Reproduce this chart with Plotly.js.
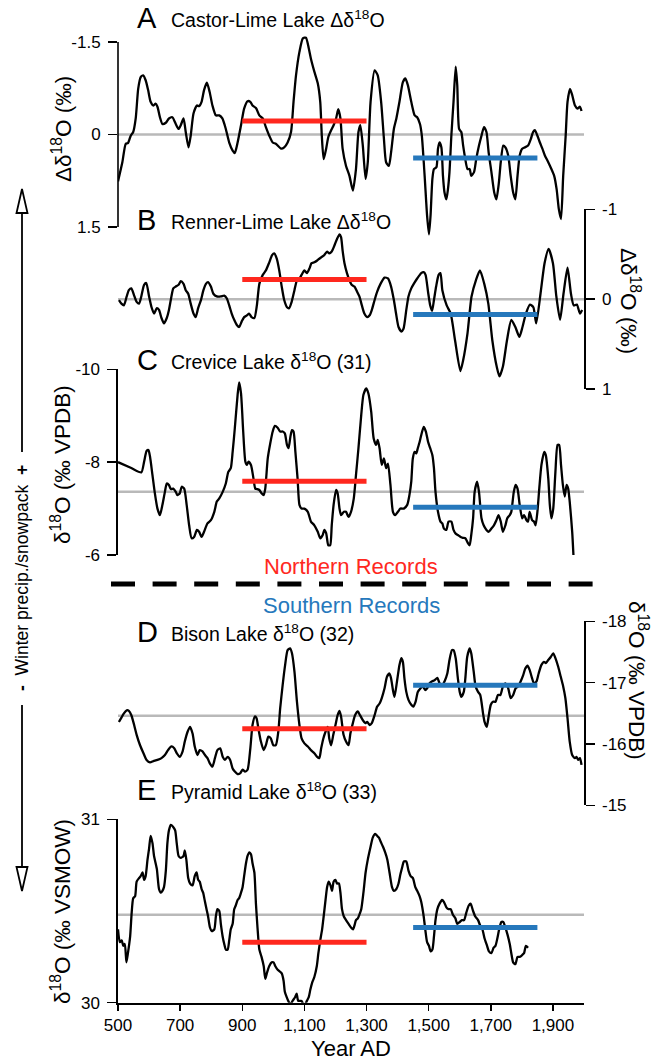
<!DOCTYPE html>
<html>
<head>
<meta charset="utf-8">
<script src="https://cdn.plot.ly/plotly-3.0.1.min.js"></script>
<style>html,body{margin:0;padding:0;background:#fff;}#chart{width:653px;height:1060px;}</style>
</head>
<body>
<div id="chart"></div>
<script>
// ---------------- DATA ----------------
const yearsA = [500,514,525,532,541,549,557,565,573,581,589,597,605,614,621,627,635,643,654,664,675,686,695,702,711,718,727,734,743,754,761,769,777,786,795,804,815,826,836,847,858,869,876,885,896,906,917,926,933,944,955,966,976,987,998,1008,1025,1035,1046,1057,1065,1073,1084,1095,1105,1114,1121,1132,1143,1151,1156,1162,1170,1177,1186,1194,1202,1209,1216,1223,1234,1245,1256,1266,1274,1280,1288,1297,1304,1313,1326,1336,1347,1356,1363,1372,1379,1388,1396,1406,1417,1425,1433,1444,1455,1463,1472,1478,1487,1495,1501,1506,1512,1517,1525,1530,1535,1541,1546,1551,1557,1562,1567,1573,1580,1587,1592,1598,1605,1611,1616,1625,1632,1637,1646,1653,1662,1670,1678,1686,1693,1702,1711,1718,1726,1732,1740,1747,1756,1764,1772,1779,1786,1793,1801,1809,1820,1829,1836,1842,1850,1858,1866,1874,1885,1895,1904,1912,1919,1926,1933,1941,1947,1955,1962,1971,1979,1987,1992];
const valsA = [0.76,0.45,0.15,0.14,0.02,-0.04,-0.26,-0.74,-0.93,-0.96,-0.88,-0.72,-0.53,-0.47,-0.50,-0.45,-0.28,-0.17,-0.19,-0.26,-0.28,-0.17,-0.09,-0.15,-0.26,-0.04,0.21,0.02,-0.34,-0.47,-0.46,-0.53,-0.72,-0.84,-0.69,-0.47,-0.31,-0.31,-0.26,-0.09,0.13,0.26,0.30,0.13,-0.15,-0.42,-0.54,-0.53,-0.47,-0.43,-0.31,-0.26,-0.12,0.02,0.13,0.15,0.23,0.21,0.13,-0.04,-0.53,-0.96,-1.34,-1.56,-1.57,-1.40,-1.23,-1.02,-0.83,-0.53,0.02,0.40,0.23,0.04,-0.07,-0.15,-0.26,-0.41,-0.26,0.23,0.51,0.67,0.91,0.56,-0.04,-0.15,0.18,0.72,0.45,-0.53,-1.04,-0.96,-0.53,0.07,0.45,0.51,0.29,-0.09,-0.26,-0.53,-0.85,-0.91,-0.80,-0.53,-0.31,-0.28,-0.17,0.02,0.67,1.32,1.62,1.32,0.72,0.56,0.53,0.23,0.13,0.21,0.67,0.94,1.05,0.89,0.61,0.02,-0.53,-1.10,-0.80,-0.09,-0.04,0.18,0.34,0.56,0.56,0.67,0.61,0.40,0.18,0.02,-0.12,-0.04,0.29,0.61,0.94,1.05,0.78,0.45,0.18,0.21,0.34,0.67,0.94,1.05,0.67,0.34,0.23,0.21,0.18,0.07,-0.04,-0.07,0.02,0.13,0.23,0.34,0.45,0.56,0.67,0.89,1.21,1.37,0.67,0.02,-0.53,-0.74,-0.64,-0.47,-0.42,-0.45,-0.38];

const yearsB = [503,511,519,528,535,543,552,560,568,575,584,591,600,608,616,625,632,640,648,657,664,672,678,686,695,702,711,718,726,734,743,750,758,767,775,783,790,799,807,818,831,842,850,858,866,874,883,890,898,906,915,922,930,939,947,955,966,976,987,996,1003,1011,1019,1027,1035,1044,1051,1059,1068,1076,1084,1091,1100,1108,1116,1123,1132,1141,1148,1156,1164,1173,1180,1188,1197,1205,1213,1218,1223,1229,1237,1245,1252,1261,1270,1277,1285,1293,1302,1310,1317,1326,1334,1345,1358,1369,1379,1388,1395,1403,1412,1419,1428,1435,1444,1452,1463,1476,1484,1490,1498,1505,1511,1517,1524,1532,1538,1544,1558,1571,1585,1602,1611,1625,1638,1652,1665,1679,1692,1705,1719,1728,1739,1752,1766,1779,1792,1802,1813,1826,1837,1846,1860,1873,1886,1900,1911,1923,1934,1947,1958,1967,1977,1987,1994];
const valsB = [0.01,0.05,0.07,-0.03,-0.10,-0.12,-0.04,0.03,0.05,-0.03,-0.16,-0.18,-0.03,0.09,0.16,0.10,0.12,0.21,0.27,0.21,0.12,-0.03,-0.12,-0.14,-0.16,-0.20,-0.17,-0.10,-0.06,0.05,0.16,0.20,0.10,0.01,-0.10,-0.17,-0.19,-0.14,-0.06,-0.03,-0.03,-0.04,-0.01,0.07,0.16,0.23,0.29,0.31,0.25,0.20,0.18,0.16,0.20,0.21,0.07,-0.17,-0.27,-0.32,-0.41,-0.49,-0.51,-0.45,-0.32,-0.14,0.01,0.09,0.10,0.03,-0.10,-0.21,-0.23,-0.27,-0.32,-0.29,-0.34,-0.40,-0.41,-0.43,-0.45,-0.47,-0.49,-0.53,-0.51,-0.53,-0.60,-0.67,-0.72,-0.69,-0.54,-0.40,-0.29,-0.21,-0.16,-0.14,-0.08,-0.03,0.07,0.16,0.20,0.18,0.12,0.01,-0.08,-0.17,-0.24,-0.23,-0.14,0.01,0.16,0.31,0.36,0.33,0.12,-0.03,-0.12,-0.17,-0.23,-0.29,-0.30,-0.27,-0.08,0.07,0.13,0.01,-0.14,-0.27,-0.29,-0.10,0.07,0.16,0.46,0.80,0.68,0.38,-0.03,-0.21,-0.32,-0.17,0.05,0.46,0.75,0.86,0.75,0.46,0.23,0.31,0.42,0.31,0.16,0.06,0.09,0.27,-0.06,-0.40,-0.56,-0.40,-0.03,0.23,-0.06,-0.35,-0.06,0.07,0.06,0.16,0.12];

const yearsC = [500,541,575,584,592,598,603,611,618,627,635,643,651,657,664,670,678,686,691,699,705,713,721,729,737,745,754,761,769,777,788,799,810,818,826,837,847,855,863,869,876,885,890,896,903,910,915,920,928,936,942,947,955,962,969,974,982,990,998,1005,1014,1022,1030,1037,1044,1049,1055,1060,1065,1071,1078,1084,1091,1100,1111,1121,1132,1143,1151,1159,1164,1170,1177,1183,1188,1194,1202,1207,1213,1218,1227,1234,1242,1250,1259,1266,1274,1283,1290,1299,1306,1315,1323,1331,1336,1342,1349,1356,1363,1369,1377,1385,1392,1401,1409,1420,1431,1438,1444,1449,1455,1460,1465,1471,1476,1484,1491,1498,1505,1512,1517,1522,1530,1538,1544,1549,1557,1564,1573,1580,1587,1594,1603,1610,1618,1627,1632,1637,1643,1648,1656,1662,1670,1677,1686,1693,1702,1710,1718,1725,1732,1739,1747,1753,1761,1766,1774,1780,1786,1793,1801,1807,1815,1820,1825,1833,1839,1844,1850,1856,1863,1872,1877,1885,1890,1895,1901,1908,1915,1920,1926,1932,1938,1944,1949,1954,1962,1966];
const valsC = [-8.00,-7.88,-7.78,-8.01,-8.24,-8.26,-8.12,-7.72,-7.36,-7.00,-6.86,-7.08,-7.36,-7.54,-7.51,-7.42,-7.43,-7.36,-7.29,-7.33,-7.47,-7.43,-7.08,-6.64,-6.36,-6.39,-6.54,-6.50,-6.39,-6.50,-6.68,-6.75,-6.93,-7.15,-7.22,-7.36,-7.54,-7.79,-7.87,-8.22,-8.73,-9.45,-9.72,-9.48,-8.66,-8.01,-7.94,-8.01,-7.94,-7.65,-7.43,-7.42,-7.40,-7.33,-7.29,-7.43,-8.08,-8.40,-8.66,-8.78,-8.74,-8.66,-8.66,-8.62,-8.37,-8.30,-8.55,-8.69,-8.66,-8.22,-7.65,-7.08,-7.00,-7.00,-6.93,-6.72,-6.64,-6.50,-6.36,-6.43,-6.54,-6.47,-6.21,-6.21,-6.64,-7.08,-7.40,-7.33,-7.00,-6.86,-6.93,-6.93,-6.82,-6.93,-7.22,-7.72,-8.30,-9.02,-9.45,-9.59,-9.48,-9.09,-8.51,-8.37,-8.48,-8.30,-7.94,-8.08,-7.87,-7.97,-7.51,-6.93,-6.86,-6.93,-7.00,-7.00,-7.08,-7.29,-7.58,-8.08,-8.22,-8.19,-8.30,-8.44,-8.58,-8.76,-8.66,-8.44,-8.30,-8.15,-7.87,-7.36,-6.93,-6.72,-6.68,-6.57,-6.54,-6.72,-6.72,-6.54,-6.46,-6.43,-6.39,-6.37,-6.36,-6.25,-6.21,-6.43,-6.79,-7.36,-7.58,-7.36,-6.79,-6.64,-6.54,-6.50,-6.57,-6.64,-6.75,-6.86,-6.72,-6.50,-6.64,-6.79,-6.86,-6.93,-7.36,-7.51,-7.43,-7.08,-6.79,-6.86,-6.75,-6.72,-6.93,-6.75,-6.72,-6.64,-6.93,-7.43,-7.94,-8.22,-8.15,-7.65,-7.08,-6.79,-7.00,-7.79,-8.37,-8.37,-7.94,-7.51,-7.26,-7.51,-7.43,-7.15,-6.50,-6.00];

const yearsD = [503,511,519,528,535,543,552,560,571,582,592,603,614,627,640,651,661,672,681,689,699,708,715,724,732,740,747,756,763,772,780,788,796,804,812,820,829,837,844,853,861,869,876,885,893,901,909,917,926,933,941,946,952,960,969,976,984,992,1000,1008,1016,1022,1030,1038,1046,1054,1060,1068,1076,1084,1091,1100,1111,1121,1132,1141,1148,1154,1161,1168,1175,1180,1186,1193,1200,1207,1213,1218,1226,1234,1242,1248,1256,1263,1272,1279,1288,1296,1302,1310,1317,1326,1334,1342,1349,1358,1366,1374,1379,1385,1390,1398,1406,1412,1417,1422,1428,1435,1444,1451,1458,1465,1474,1481,1489,1495,1503,1510,1519,1528,1535,1544,1551,1560,1567,1575,1580,1587,1594,1600,1605,1613,1618,1624,1632,1637,1645,1651,1659,1666,1675,1680,1687,1693,1700,1707,1715,1723,1731,1739,1747,1756,1764,1772,1780,1788,1796,1804,1811,1818,1825,1833,1839,1847,1854,1863,1871,1877,1885,1893,1901,1908,1917,1925,1933,1940,1947,1954,1962,1971,1976,1981,1987,1992];
const valsD = [-16.36,-16.43,-16.50,-16.55,-16.54,-16.47,-16.31,-16.15,-15.98,-15.85,-15.74,-15.70,-15.72,-15.74,-15.77,-15.82,-15.90,-15.96,-15.93,-15.85,-15.79,-15.88,-16.04,-16.20,-16.28,-16.17,-15.96,-15.82,-15.90,-15.88,-15.82,-15.77,-15.68,-15.63,-15.77,-15.90,-15.93,-15.79,-15.74,-15.79,-15.74,-15.60,-15.55,-15.51,-15.52,-15.58,-15.55,-15.58,-15.93,-16.31,-16.45,-16.42,-16.25,-16.04,-15.90,-15.98,-16.12,-16.09,-15.98,-15.98,-16.20,-16.58,-16.96,-17.29,-17.53,-17.56,-17.48,-17.18,-16.69,-16.31,-16.09,-16.01,-15.96,-15.90,-15.85,-15.79,-15.77,-15.93,-16.09,-16.20,-16.28,-16.09,-15.98,-16.15,-16.31,-16.47,-16.54,-16.45,-16.15,-16.04,-15.98,-16.17,-16.34,-16.47,-16.53,-16.47,-16.39,-16.34,-16.36,-16.31,-16.34,-16.47,-16.61,-16.66,-16.75,-16.91,-17.10,-17.15,-17.07,-16.88,-16.77,-17.02,-17.29,-17.40,-17.34,-17.07,-16.85,-16.72,-16.64,-16.61,-16.69,-16.85,-16.91,-16.94,-16.88,-16.91,-16.99,-17.02,-17.04,-17.08,-16.99,-16.96,-17.02,-17.15,-17.37,-17.53,-17.53,-17.40,-17.07,-16.85,-16.77,-16.85,-17.07,-17.42,-17.56,-17.48,-17.18,-16.94,-16.85,-16.80,-16.50,-16.36,-16.28,-16.45,-16.64,-16.69,-16.69,-16.80,-16.80,-16.94,-16.99,-16.91,-16.75,-16.80,-16.91,-16.94,-17.02,-17.12,-17.23,-17.28,-17.21,-17.07,-16.99,-17.02,-17.15,-17.29,-17.34,-17.32,-17.37,-17.42,-17.48,-17.40,-17.26,-17.10,-16.94,-16.75,-16.42,-16.04,-15.82,-15.77,-15.79,-15.74,-15.77,-15.66];

const yearsE = [500,506,512,517,522,527,532,539,544,549,555,560,568,573,579,584,589,595,600,605,611,616,625,632,638,643,648,654,659,664,670,677,684,689,695,702,711,715,720,726,732,740,747,753,758,763,769,774,780,785,790,796,802,810,815,820,826,831,837,842,847,853,858,863,869,874,879,885,890,896,901,906,912,917,923,928,933,939,944,949,955,962,969,974,979,987,995,1001,1006,1014,1021,1027,1033,1037,1043,1048,1055,1062,1070,1075,1080,1086,1091,1097,1102,1108,1114,1119,1125,1132,1140,1145,1151,1157,1162,1168,1173,1178,1184,1189,1194,1200,1205,1211,1216,1221,1227,1234,1242,1250,1257,1261,1266,1272,1277,1283,1290,1297,1304,1313,1320,1328,1334,1340,1345,1353,1360,1367,1374,1382,1388,1396,1403,1409,1415,1420,1428,1435,1442,1449,1457,1463,1471,1476,1484,1489,1495,1501,1506,1512,1517,1522,1528,1535,1543,1549,1557,1564,1571,1578,1586,1592,1600,1607,1614,1621,1629,1635,1643,1650,1659,1666,1673,1680,1688,1694,1702,1709,1715,1721,1727,1734,1740,1747,1754,1761,1766,1772,1779,1786,1793,1801,1807,1813,1820];
const valsE = [30.40,30.33,30.34,30.31,30.32,30.22,30.27,30.36,30.49,30.57,30.58,30.66,30.68,30.69,30.71,30.67,30.69,30.78,30.84,30.91,30.87,30.80,30.73,30.62,30.60,30.61,30.63,30.72,30.87,30.94,30.97,30.96,30.94,30.87,30.80,30.79,30.80,30.83,30.78,30.68,30.65,30.64,30.69,30.71,30.67,30.66,30.62,30.60,30.55,30.51,30.47,30.41,30.39,30.40,30.47,30.51,30.50,30.43,30.36,30.32,30.29,30.29,30.34,30.40,30.43,30.51,30.53,30.56,30.57,30.60,30.63,30.69,30.76,30.80,30.82,30.81,30.76,30.71,30.54,30.41,30.29,30.25,30.20,30.13,30.16,30.20,30.22,30.22,30.20,30.18,30.17,30.16,30.12,30.06,30.03,30.01,29.99,30.01,30.03,30.05,30.01,30.01,30.01,29.99,29.99,30.01,30.03,30.07,30.11,30.14,30.20,30.27,30.34,30.40,30.47,30.56,30.63,30.66,30.64,30.61,30.66,30.67,30.65,30.65,30.60,30.51,30.47,30.45,30.43,30.41,30.40,30.42,30.45,30.46,30.48,30.51,30.60,30.71,30.78,30.85,30.90,30.92,30.91,30.90,30.88,30.85,30.82,30.78,30.71,30.63,30.61,30.62,30.65,30.70,30.74,30.77,30.77,30.72,30.69,30.68,30.63,30.61,30.58,30.55,30.47,30.40,30.33,30.31,30.28,30.29,30.36,30.45,30.51,30.54,30.56,30.55,30.52,30.51,30.51,30.48,30.46,30.43,30.44,30.45,30.45,30.49,30.53,30.54,30.50,30.47,30.45,30.42,30.40,30.35,30.31,30.28,30.27,30.30,30.31,30.35,30.40,30.44,30.44,30.41,30.37,30.32,30.27,30.22,30.21,30.25,30.25,30.26,30.27,30.31,30.30];

// long-term means (grey) and period means: northern (red, 900-1300) and southern (blue, 1450-1850)
const recordSpan = [500, 2000];
const northPeriod = [900, 1300];
const southPeriod = [1450, 1850];
const meanAll   = {A: 0, B: 0, C: -7.36, D: -16.46, E: 30.48};
const meanNorth = {A: -0.22, B: -0.22, C: -7.59, D: -16.25, E: 30.33};
const meanSouth = {A: 0.38, B: 0.17, C: -7.03, D: -16.96, E: 30.41};

const xTickVals = [500,700,900,1100,1300,1500,1700,1900];
const xTickText = ['500','700','900','1,100','1,300','1,500','1,700','1,900'];
const tickA = [-1.5, 0, 1.5],       tickTextA = ['-1.5','0','1.5'];
const tickB = [-1, 0, 1],           tickTextB = ['-1','0','1'];
const tickC = [-10, -8, -6],        tickTextC = ['-10','-8','-6'];
const tickD = [-18, -17, -16, -15], tickTextD = ['-18','-17','-16','-15'];
const tickE = [30, 31],             tickTextE = ['30','31'];

// ---------------- LAYOUT HELPERS ----------------
const W = 653, H = 1060;
const px = x => x / W;
const py = y => 1 - y / H;
function dom(v1, p1, v2, p2, vb, vt) {
  const s = (p2 - p1) / (v2 - v1);
  const pb = p1 + (vb - v1) * s, pt = p1 + (vt - v1) * s;
  return [1 - pb / H, 1 - pt / H];
}
const RED = 'rgb(255,40,30)';
const BLUE = 'rgb(38,120,188)';
const GREY = 'rgb(185,185,185)';
const FONT = 'Liberation Sans, Arial, Helvetica, sans-serif';
const TICKSIZE = 17;

const panels = [
  {key:'A', ax:'y',  years: yearsA, vals: valsA},
  {key:'B', ax:'y2', years: yearsB, vals: valsB},
  {key:'C', ax:'y3', years: yearsC, vals: valsC},
  {key:'D', ax:'y4', years: yearsD, vals: valsD},
  {key:'E', ax:'y5', years: yearsE, vals: valsE}
];

const traces = [];
panels.forEach(p => {
  traces.push({x: recordSpan, y: [meanAll[p.key], meanAll[p.key]], xaxis:'x', yaxis:p.ax, mode:'lines',
               line:{color:GREY, width:2.5}, hoverinfo:'skip'});
  traces.push({x: p.years, y: p.vals, xaxis:'x', yaxis:p.ax, mode:'lines',
               line:{color:'black', width:2.3, shape:'spline', smoothing:0.6}, hoverinfo:'skip'});
  traces.push({x: northPeriod, y: [meanNorth[p.key], meanNorth[p.key]], xaxis:'x', yaxis:p.ax, mode:'lines',
               line:{color:RED, width:5}, hoverinfo:'skip'});
  traces.push({x: southPeriod, y: [meanSouth[p.key], meanSouth[p.key]], xaxis:'x', yaxis:p.ax, mode:'lines',
               line:{color:BLUE, width:5}, hoverinfo:'skip'});
});

const yBase = {showgrid:false, zeroline:false, ticks:'outside', ticklen:9, tickwidth:1.5, tickcolor:'black',
  linecolor:'black', linewidth:1.6, tickfont:{size:TICKSIZE, family:FONT, color:'black'}, anchor:'x', tickmode:'array',
  ticklabelstandoff:4, fixedrange:true};

const layout = {
  width: W, height: H,
  margin: {l:0, r:0, t:0, b:0, pad:0},
  paper_bgcolor: 'white', plot_bgcolor: 'rgba(0,0,0,0)',
  showlegend: false,
  font: {family: FONT, color: 'black'},
  xaxis: {domain:[px(118), px(584)], range:[500, 2000], anchor:'y5', showgrid:false, zeroline:false,
          showline:true, linecolor:'black', linewidth:2.2, ticks:'outside', ticklen:6, tickwidth:1.5, tickcolor:'black',
          tickmode:'array', tickvals:xTickVals, ticktext:xTickText, tickfont:{size:TICKSIZE, family:FONT},
          ticklabelstandoff:0, fixedrange:true},
  yaxis:  Object.assign({}, yBase, {domain: dom(-1.5,42, 1.5,227, 1.75,-1.65), range:[1.75,-1.65], side:'left',
          showline:false, tickvals:tickA, ticktext:tickTextA}),
  yaxis2: Object.assign({}, yBase, {domain: dom(-1,209.3, 1,389, 1,-1), range:[1,-1], side:'right',
          showline:true, tickvals:tickB, ticktext:tickTextB}),
  yaxis3: Object.assign({}, yBase, {domain: dom(-10,369.3, -6,555, -6,-10), range:[-6,-10], side:'left',
          showline:true, tickvals:tickC, ticktext:tickTextC}),
  yaxis4: Object.assign({}, yBase, {domain: dom(-18,621.4, -15,805.3, -15,-18), range:[-15,-18], side:'right',
          showline:true, tickvals:tickD, ticktext:tickTextD}),
  yaxis5: Object.assign({}, yBase, {domain: dom(31,819.3, 30,1002.7, 30,31), range:[30,31], side:'left',
          showline:true, tickvals:tickE, ticktext:tickTextE}),
  shapes: [
    {type:'line', xref:'paper', yref:'y', x0:px(118), x1:px(118), y0:-1.5, y1:1.5, line:{color:'black', width:1.6}},
    {type:'line', xref:'paper', yref:'paper', x0:px(111), x1:px(594), y0:py(584), y1:py(584),
     line:{color:'black', width:5, dash:'24px,17.6px'}},
    {type:'line', xref:'paper', yref:'paper', x0:px(22), x1:px(22), y0:py(212), y1:py(452), line:{color:'black', width:1.8}},
    {type:'path', xref:'paper', yref:'paper',
     path:`M ${px(22)} ${py(189)} L ${px(16.5)} ${py(213)} L ${px(27.5)} ${py(213)} Z`,
     fillcolor:'white', line:{color:'black', width:1.8}},
    {type:'line', xref:'paper', yref:'paper', x0:px(22), x1:px(22), y0:py(705), y1:py(868), line:{color:'black', width:1.8}},
    {type:'path', xref:'paper', yref:'paper',
     path:`M ${px(22)} ${py(891)} L ${px(16.5)} ${py(867)} L ${px(27.5)} ${py(867)} Z`,
     fillcolor:'white', line:{color:'black', width:1.8}}
  ],
  annotations: []
};

function ann(text, x, y, opts) {
  layout.annotations.push(Object.assign({text:text, x:px(x), y:py(y), xref:'paper', yref:'paper',
    showarrow:false, xanchor:'center', yanchor:'middle', font:{size:17, family:FONT, color:'black'}}, opts || {}));
}
const panelTitles = [
  ['A', 'Castor-Lime Lake Δδ<sup>18</sup>O', 18],
  ['B', 'Renner-Lime Lake Δδ<sup>18</sup>O', 220],
  ['C', 'Crevice Lake δ<sup>18</sup>O (31)', 360],
  ['D', 'Bison Lake δ<sup>18</sup>O (32)', 632],
  ['E', 'Pyramid Lake δ<sup>18</sup>O (33)', 790]
];
panelTitles.forEach(t => {
  ann(t[0], 135, t[2], {xanchor:'left', font:{size:29, family:FONT, color:'black'}});
  ann(t[1], 169, t[2] + 1, {xanchor:'left', font:{size:19.5, family:FONT, color:'black'}});
});
const AXT = 22.5;
ann('Δδ<sup>18</sup>O (‰)', 62, 129, {textangle:-90, font:{size:AXT, family:FONT, color:'black'}});
ann('Δδ<sup>18</sup>O (‰)', 630, 301, {textangle:90, font:{size:AXT, family:FONT, color:'black'}});
ann('δ<sup>18</sup>O (‰ VPDB)', 61, 465, {textangle:-90, font:{size:AXT, family:FONT, color:'black'}});
ann('δ<sup>18</sup>O (‰ VPDB)', 638, 680, {textangle:90, font:{size:AXT, family:FONT, color:'black'}});
ann('δ<sup>18</sup>O (‰ VSMOW)', 61, 912, {textangle:-90, font:{size:AXT, family:FONT, color:'black'}});
ann('Year AD', 351, 1048, {font:{size:22, family:FONT, color:'black'}});
ann('Northern Records', 351, 566, {font:{size:22, family:FONT, color:RED}});
ann('Southern Records', 351, 605, {font:{size:22, family:FONT, color:BLUE}});
ann('<b>-</b>  Winter precip./snowpack  <b>+</b>', 22, 578, {textangle:-90, font:{size:17.5, family:FONT, color:'black'}});

Plotly.newPlot('chart', traces, layout, {displayModeBar:false, staticPlot:true});
</script>
</body>
</html>
